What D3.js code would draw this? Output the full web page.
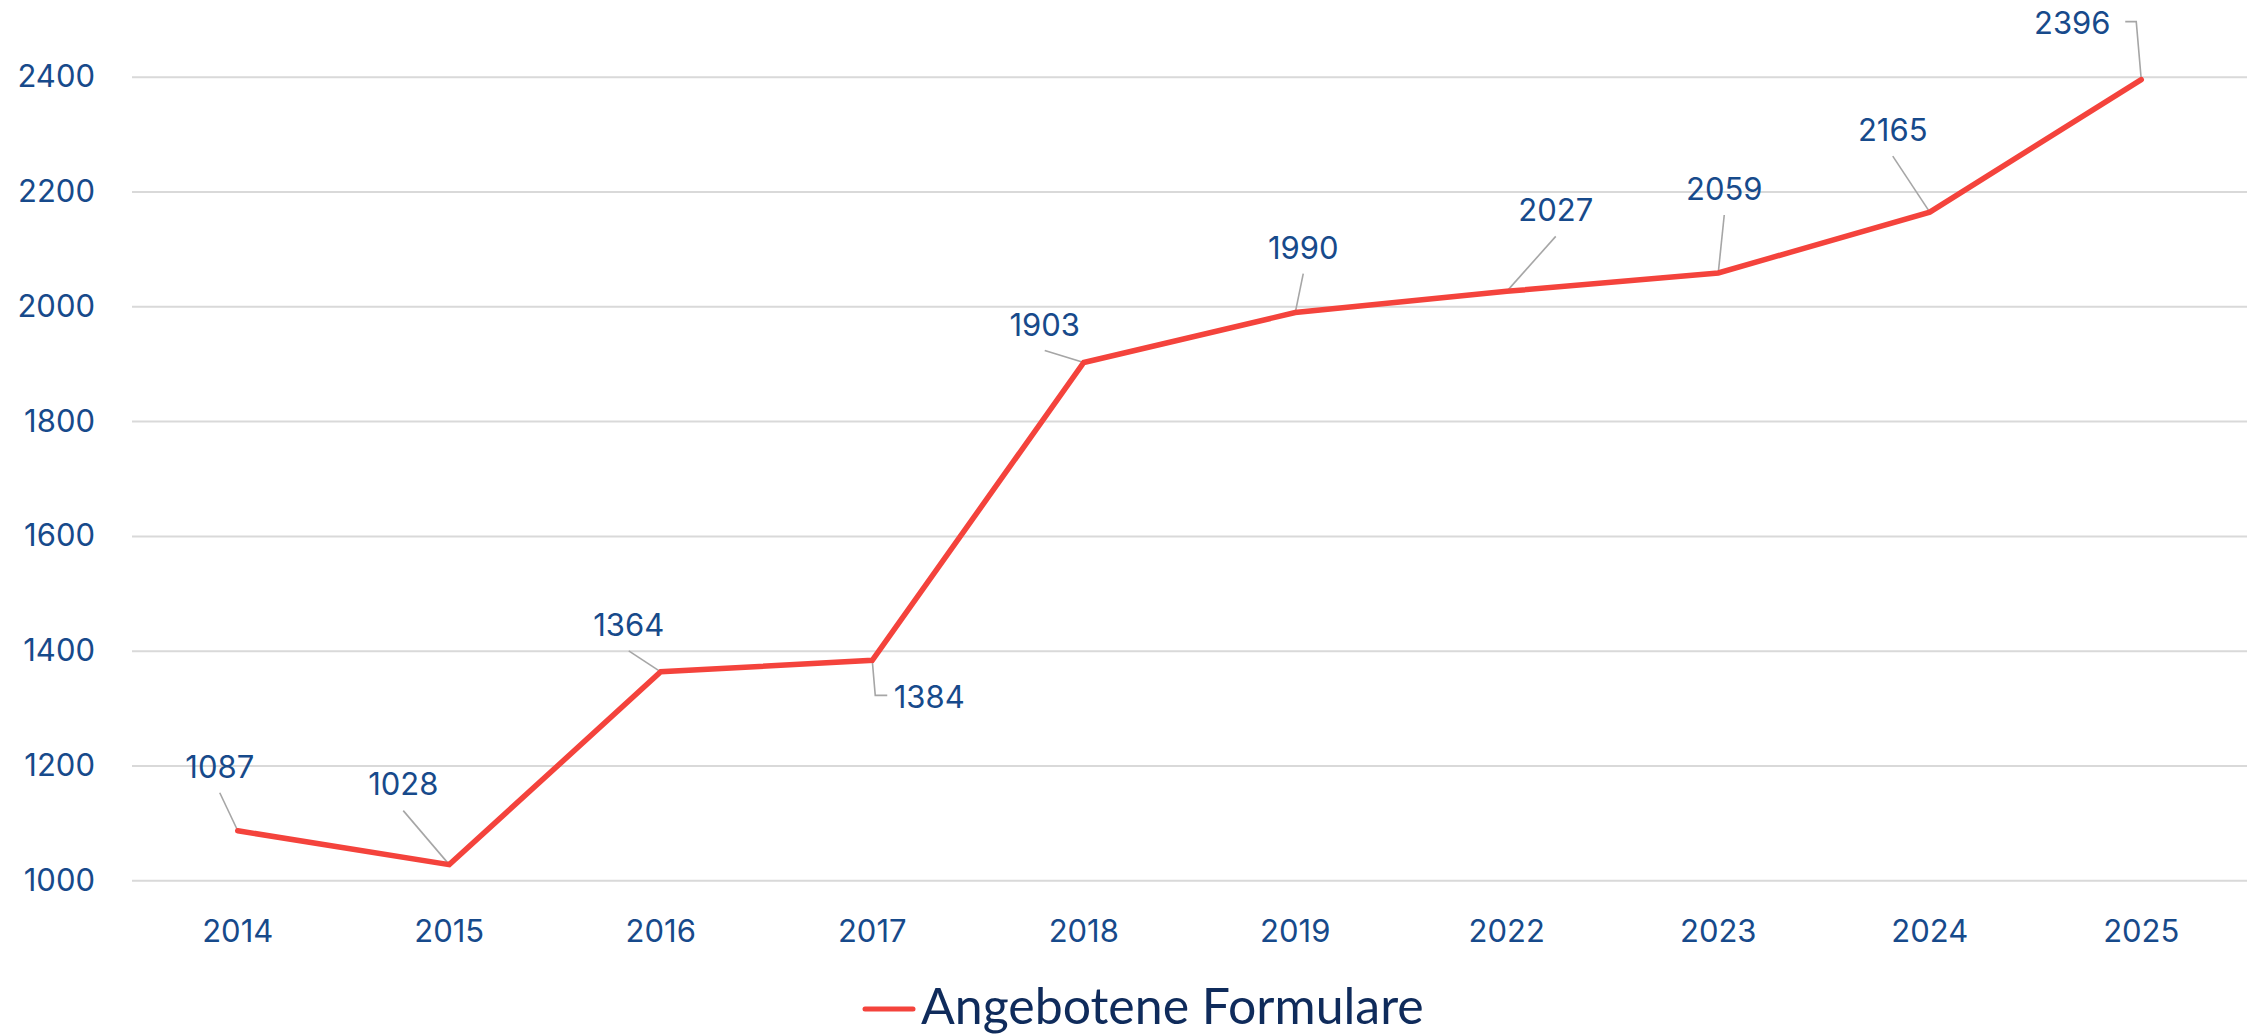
<!DOCTYPE html>
<html>
<head>
<meta charset="utf-8">
<script src="https://cdn.jsdelivr.net/npm/d3@7"></script>
<style>
  html, body { margin: 0; padding: 0; background: #ffffff; }
  svg { display: block; }
</style>
</head>
<body>
<svg id="chart" width="2252" height="1034"></svg>
<script>
// Data
const years = ["2014", "2015", "2016", "2017", "2018", "2019", "2022", "2023", "2024", "2025"];
const formulare = [1087, 1028, 1364, 1384, 1903, 1990, 2027, 2059, 2165, 2396];
const yTicks = [1000, 1200, 1400, 1600, 1800, 2000, 2200, 2400];
const seriesName = "Angebotene Formulare";

// Label placement relative to each point (px): label centre x, baseline y, leader path
const labelLayout = [
  { dx: -18, dy: -53, leader: [[-18, -38]] },
  { dx: -46, dy: -70, leader: [[-46, -54]] },
  { dx: -32, dy: -36, leader: [[-32, -21]] },
  { dx: 57, dy: 48, leader: [[3, 35], [15, 35]] },
  { dx: -39, dy: -27, leader: [[-39, -12]] },
  { dx: 8, dy: -54, leader: [[8, -39]] },
  { dx: 49, dy: -70, leader: [[49, -55]] },
  { dx: 6, dy: -73, leader: [[6, -58]] },
  { dx: -37, dy: -71, leader: [[-37, -56]] },
  { dx: -69, dy: -46, leader: [[-5, -58], [-16, -58]] }
];

const width = 2252, height = 1034;
const plot = { left: 132, right: 2247, top: 77.3, bottom: 880.7 };
const blue = "#174a8b";
const red = "#f4433c";
const font = "Inter, 'Noto Sans', sans-serif";

const svg = d3.select("#chart");

const x = d3.scaleBand()
  .domain(years)
  .range([plot.left, plot.right])
  .padding(0);

const y = d3.scaleLinear()
  .domain([1000, 2400])
  .range([plot.bottom, plot.top]);

const cx = d => x(d) + x.bandwidth() / 2;

// Gridlines
svg.append("g")
  .selectAll("line")
  .data(yTicks)
  .join("line")
  .attr("x1", plot.left)
  .attr("x2", plot.right)
  .attr("y1", d => y(d))
  .attr("y2", d => y(d))
  .attr("stroke", "#d9d9d9")
  .attr("stroke-width", 2);

// Y labels
svg.append("g")
  .selectAll("text")
  .data(yTicks)
  .join("text")
  .attr("x", 95)
  .attr("y", d => y(d))
  .attr("dy", "0.32em")
  .attr("text-anchor", "end")
  .style("font-family", font)
  .style("font-size", "31px")
  .style("fill", blue)
  .text(d => d);

// X labels
svg.append("g")
  .selectAll("text")
  .data(years)
  .join("text")
  .attr("x", d => cx(d))
  .attr("y", 942)
  .attr("text-anchor", "middle")
  .style("font-family", font)
  .style("font-size", "31px")
  .style("fill", blue)
  .text(d => d);

const points = years.map((yr, i) => ({ year: yr, value: formulare[i], px: cx(yr), py: y(formulare[i]), lay: labelLayout[i] }));

// Leader lines
svg.append("g")
  .selectAll("path")
  .data(points)
  .join("path")
  .attr("d", d => {
    const pts = [[d.px, d.py]].concat(d.lay.leader.map(p => [d.px + p[0], d.py + p[1]]));
    return d3.line()(pts);
  })
  .attr("fill", "none")
  .attr("stroke", "#a6a6a6")
  .attr("stroke-width", 1.6);

// Series line
const line = d3.line()
  .x(d => d.px)
  .y(d => d.py);

svg.append("path")
  .datum(points)
  .attr("d", line)
  .attr("fill", "none")
  .attr("stroke", red)
  .attr("stroke-width", 5.5)
  .attr("stroke-linejoin", "miter")
  .attr("stroke-linecap", "round");

// Data labels
svg.append("g")
  .selectAll("text")
  .data(points)
  .join("text")
  .attr("x", d => d.px + d.lay.dx)
  .attr("y", d => d.py + d.lay.dy)
  .attr("text-anchor", "middle")
  .style("font-family", font)
  .style("font-size", "31px")
  .style("fill", blue)
  .text(d => d.value);

// Legend
const legend = svg.append("g");
legend.append("line")
  .attr("x1", 865)
  .attr("x2", 913)
  .attr("y1", 1009)
  .attr("y2", 1009)
  .attr("stroke", red)
  .attr("stroke-width", 5)
  .attr("stroke-linecap", "round");
legend.append("text")
  .attr("x", 921)
  .attr("y", 1024)
  .style("font-family", "Lato, 'Open Sans', sans-serif")
  .style("font-size", "50px")
  .style("fill", "#0f2b5b")
  .text(seriesName);
</script>
</body>
</html>
